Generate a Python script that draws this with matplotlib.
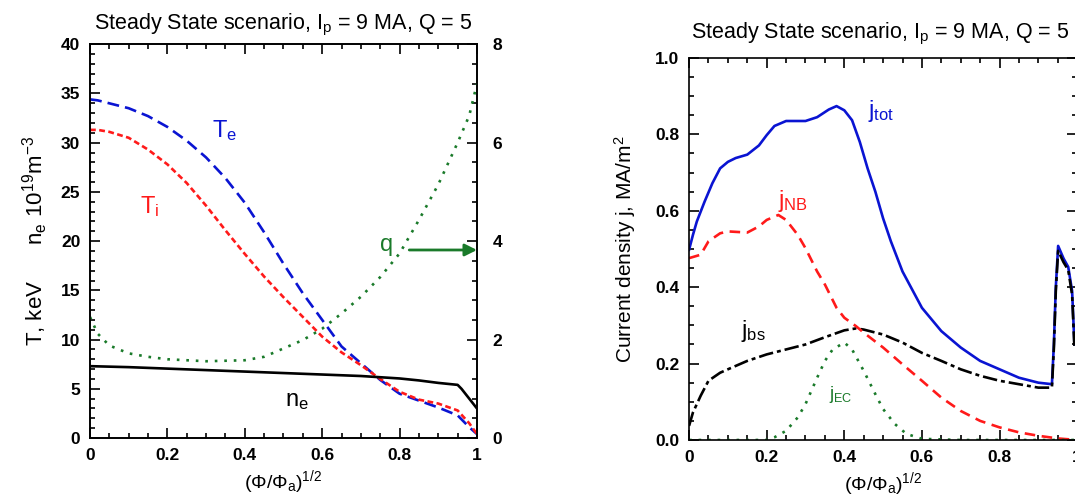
import matplotlib
matplotlib.use("Agg")
import matplotlib.pyplot as plt
from matplotlib.ticker import MultipleLocator, FormatStrFormatter

plt.rcParams['font.family'] = ['Liberation Sans', 'DejaVu Sans']
plt.rcParams['mathtext.fontset'] = 'custom'
plt.rcParams['mathtext.rm'] = 'Liberation Sans'
plt.rcParams['mathtext.it'] = 'Liberation Sans'
plt.rcParams['mathtext.bf'] = 'Liberation Sans:bold'

# ---- left panel: profiles ----
x_T = [0, 0.02, 0.05, 0.1, 0.15, 0.2, 0.25, 0.3, 0.35, 0.4, 0.45, 0.5, 0.55,
       0.6, 0.65, 0.7, 0.75, 0.8, 0.85, 0.9, 0.95, 0.98, 1.0]
Te = [34.4, 34.3, 34.0, 33.5, 32.7, 31.6, 30.2, 28.5, 26.4, 23.9, 20.9, 17.7,
      14.7, 12.0, 9.3, 7.6, 5.9, 4.5, 3.8, 3.1, 2.3, 1.1, 0.4]
Ti = [31.3, 31.3, 31.1, 30.5, 29.3, 27.8, 25.9, 23.6, 21.1, 18.7, 16.4, 14.3,
      12.3, 10.3, 8.7, 7.4, 6.0, 4.7, 3.9, 3.5, 2.8, 1.5, 0.4]

x_ne = [0, 0.1, 0.2, 0.3, 0.4, 0.5, 0.6, 0.7, 0.8, 0.85, 0.9, 0.95, 0.96, 0.98, 1.0]
ne = [7.3, 7.2, 7.05, 6.9, 6.75, 6.6, 6.45, 6.3, 6.05, 5.85, 5.6, 5.4, 5.0, 4.0, 3.0]

x_q = [0, 0.02, 0.05, 0.1, 0.15, 0.2, 0.3, 0.4, 0.45, 0.5, 0.55, 0.6, 0.65,
       0.7, 0.75, 0.8, 0.85, 0.9, 0.95, 0.98, 1.0]
q = [2.46, 2.12, 1.88, 1.72, 1.65, 1.60, 1.56, 1.58, 1.65, 1.82, 1.99, 2.22,
     2.53, 2.87, 3.27, 3.75, 4.43, 5.15, 6.0, 6.55, 7.2]

# ---- right panel: current densities ----
x_tot = [0, 0.01, 0.02, 0.04, 0.06, 0.08, 0.1, 0.12, 0.15, 0.18, 0.2, 0.22,
         0.25, 0.3, 0.33, 0.36, 0.38, 0.4, 0.42, 0.44, 0.46, 0.48, 0.5, 0.52,
         0.55, 0.6, 0.65, 0.7, 0.75, 0.8, 0.85, 0.9, 0.935, 0.94, 0.945,
         0.951, 0.965, 0.977, 0.987, 0.993]
j_tot = [0.498, 0.537, 0.572, 0.624, 0.672, 0.711, 0.728, 0.738, 0.747, 0.771,
         0.798, 0.822, 0.835, 0.835, 0.845, 0.865, 0.874, 0.863, 0.837, 0.78,
         0.711, 0.65, 0.58, 0.52, 0.441, 0.346, 0.285, 0.242, 0.207, 0.185,
         0.163, 0.150, 0.146, 0.25, 0.40, 0.508, 0.475, 0.453, 0.39, 0.25]

x_bs = [0, 0.01, 0.03, 0.05, 0.08, 0.1, 0.15, 0.2, 0.25, 0.3, 0.35, 0.4, 0.43,
        0.45, 0.5, 0.55, 0.6, 0.65, 0.7, 0.75, 0.8, 0.85, 0.9, 0.935, 0.94,
        0.945, 0.951, 0.965, 0.977, 0.987, 0.993]
j_bs = [0.037, 0.072, 0.116, 0.155, 0.176, 0.185, 0.207, 0.224, 0.237, 0.25,
        0.269, 0.287, 0.292, 0.289, 0.276, 0.255, 0.228, 0.207, 0.185, 0.168,
        0.155, 0.146, 0.137, 0.137, 0.24, 0.39, 0.495, 0.465, 0.445, 0.38, 0.24]

x_nb = [0, 0.03, 0.05, 0.08, 0.1, 0.15, 0.18, 0.2, 0.23, 0.25, 0.28, 0.3, 0.33,
        0.35, 0.38, 0.4, 0.43, 0.45, 0.5, 0.55, 0.6, 0.65, 0.7, 0.75, 0.8,
        0.85, 0.9, 0.95, 1.0]
j_nb = [0.476, 0.485, 0.52, 0.541, 0.546, 0.543, 0.559, 0.576, 0.589, 0.576,
        0.537, 0.502, 0.441, 0.407, 0.346, 0.32, 0.298, 0.281, 0.242, 0.198,
        0.155, 0.111, 0.076, 0.05, 0.033, 0.02, 0.011, 0.004, 0.0]

x_ec = [0, 0.1, 0.2, 0.22, 0.25, 0.28, 0.3, 0.33, 0.35, 0.37, 0.4, 0.42, 0.45,
        0.48, 0.5, 0.53, 0.56, 0.6, 0.7, 0.8, 0.9, 1.0]
j_ec = [0, 0, 0.0, 0.007, 0.024, 0.059, 0.094, 0.163, 0.207, 0.237, 0.255,
        0.237, 0.181, 0.12, 0.081, 0.042, 0.016, 0.003, 0, 0, 0, 0]

BLUE = '#0a14d2'
RED = '#ff1a1a'
GREEN = '#1a7a2a'
LW = 1.9
TICK_FS = 12.5
TITLE_FS = 15.5
title_txt = r'Steady State scenario, I$_\mathregular{p}$ = 9 MA, Q = 5'
xlab_txt = r'(Φ/Φ$_\mathregular{a}$)$^\mathregular{1/2}$'

fig = plt.figure(figsize=(10.75, 5.01), dpi=100)
ax = fig.add_axes([0.0837, 0.1257, 0.36, 0.786])
ax2 = ax.twinx()
axr = fig.add_axes([0.641, 0.1218, 0.361, 0.7625])


def style(a, xmaj, xmin, ymaj, ymin, yfmt, right=True):
    a.xaxis.set_major_locator(MultipleLocator(xmaj))
    a.xaxis.set_minor_locator(MultipleLocator(xmin))
    a.yaxis.set_major_locator(MultipleLocator(ymaj))
    a.yaxis.set_minor_locator(MultipleLocator(ymin))
    a.yaxis.set_major_formatter(FormatStrFormatter(yfmt))
    a.xaxis.set_major_formatter(plt.FuncFormatter(lambda v, pos: '%g' % v))
    a.tick_params(which='both', direction='in', top=True, right=right, width=1.2)
    a.tick_params(which='major', length=7, pad=7)
    a.tick_params(which='minor', length=3.5)
    for lab in a.get_xticklabels() + a.get_yticklabels():
        lab.set_fontsize(TICK_FS)
        lab.set_fontweight('bold')
    for s in a.spines.values():
        s.set_linewidth(1.2)


# left panel
ax.plot(x_T, Te, color=BLUE, lw=LW, dashes=(4.5, 2.3))
ax.plot(x_T, Ti, color=RED, lw=LW, dashes=(2.2, 1.3))
ax.plot(x_ne, ne, color='black', lw=LW)
ax2.plot(x_q, q, color=GREEN, lw=LW, dashes=(1.0, 2.6))
ax.set_xlim(0, 1)
ax.set_ylim(0, 40)
ax2.set_ylim(0, 8)
style(ax, 0.2, 0.05, 5, 1, '%d', right=False)
ax2.yaxis.set_major_locator(MultipleLocator(2))
ax2.yaxis.set_minor_locator(MultipleLocator(0.4))
ax2.tick_params(which='both', direction='in', width=1.2)
ax2.tick_params(which='major', length=7, pad=11)
ax2.tick_params(which='minor', length=3.5)
for lab in ax2.get_yticklabels():
    lab.set_fontsize(TICK_FS)
    lab.set_fontweight('bold')
for s in ax2.spines.values():
    s.set_linewidth(1.2)

ax.set_title(title_txt, fontsize=TITLE_FS, pad=11)
ax.set_xlabel(xlab_txt, fontsize=14, labelpad=4)
ax.set_ylabel(r'T, keV      n$_\mathregular{e}$ 10$^\mathregular{19}$m$^\mathregular{-3}$',
              fontsize=16, labelpad=8)

ax.text(0.315, 30.6, r'T$_\mathregular{e}$', color=BLUE, fontsize=17)
ax.text(0.13, 22.8, r'T$_\mathregular{i}$', color=RED, fontsize=17)
ax.text(0.505, 3.2, r'n$_\mathregular{e}$', color='black', fontsize=17)
ax2.text(0.75, 3.8, 'q', color=GREEN, fontsize=17)
ax2.annotate('', xy=(1.0, 3.82), xytext=(0.825, 3.82),
             arrowprops=dict(arrowstyle='-|>', color=GREEN, lw=2,
                             mutation_scale=18, shrinkA=0, shrinkB=0))

# right panel
axr.plot(x_tot, j_tot, color=BLUE, lw=LW)
axr.plot(x_bs, j_bs, color='black', lw=LW, dashes=(5.5, 1.5, 1.5, 1.5))
axr.plot(x_nb, j_nb, color=RED, lw=LW, dashes=(4, 2.5))
axr.plot(x_ec, j_ec, color=GREEN, lw=LW, dashes=(1.0, 2.6))
axr.set_xlim(0, 1)
axr.set_ylim(0, 1.0)
style(axr, 0.2, 0.05, 0.2, 0.05, '%.1f')
# right title sits slightly left of the axes centre so it stays inside the figure
fig.text(880 / 1075, 1 - 38 / 501, title_txt, fontsize=TITLE_FS,
         ha='center', va='baseline')
axr.set_xlabel(xlab_txt, fontsize=14, labelpad=4)
axr.set_ylabel(r'Current density j, MA/m$^\mathregular{2}$', fontsize=15, labelpad=12)

axr.text(0.46, 0.845, r'j$_\mathregular{tot}$', color=BLUE, fontsize=17)
axr.text(0.23, 0.61, r'j$_\mathregular{NB}$', color=RED, fontsize=17)
axr.text(0.135, 0.27, r'j$_\mathregular{bs}$', color='black', fontsize=17)
axr.text(0.36, 0.108, r'j$_\mathregular{EC}$', color=GREEN, fontsize=13)

fig.savefig('out.png', dpi=100)
